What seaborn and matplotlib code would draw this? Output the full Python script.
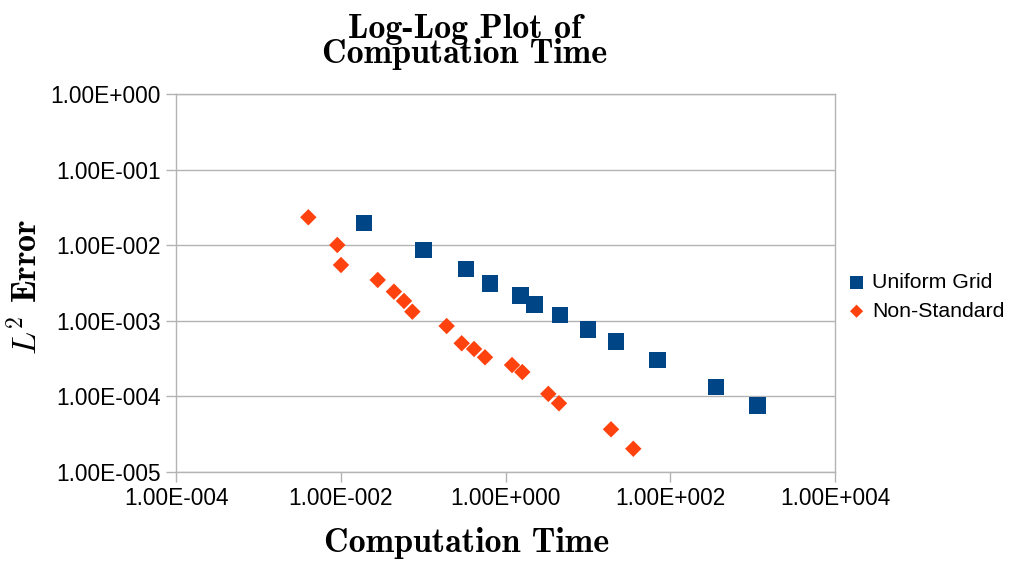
import numpy as np
import pandas as pd
import matplotlib
matplotlib.use("Agg")
import matplotlib.pyplot as plt
from matplotlib.ticker import FixedLocator, FuncFormatter, NullLocator
import seaborn as sns

# ---- data ----
uniform_time = [0.0191, 0.1005, 0.329, 0.649, 1.53, 2.24, 4.59, 10.1, 21.8, 69.7, 359, 1140]
uniform_err = [0.0195, 0.00865, 0.00484, 0.00313, 0.00215, 0.00165, 0.00119,
               0.000772, 0.000529, 0.000303, 0.000134, 7.62e-5]

nonstd_time = [0.00404, 0.00908, 0.01007, 0.0281, 0.0442, 0.0586, 0.0740, 0.193,
               0.294, 0.415, 0.564, 1.20, 1.60, 3.31, 4.46, 19.1, 35.6]
nonstd_err = [0.0234, 0.01006, 0.00547, 0.00347, 0.00243, 0.00183, 0.00132, 0.000853,
              0.000504, 0.000424, 0.000329, 0.000260, 0.000210, 0.000108, 8.11e-5,
              3.67e-5, 2.03e-5]

series_names = ["Uniform Grid", "Non-Standard"]
x_ticks = [1e-4, 1e-2, 1e0, 1e2, 1e4]
y_ticks = [1e-5, 1e-4, 1e-3, 1e-2, 1e-1, 1e0]

title_text = "Log-Log Plot of\nComputation Time"
x_label = "Computation Time"
y_label = r"$L^2$ Error"

df_u = pd.DataFrame({"time": uniform_time, "err": uniform_err, "series": series_names[0]})
df_n = pd.DataFrame({"time": nonstd_time, "err": nonstd_err, "series": series_names[1]})

sns.set_theme(style="white")
plt.rcParams["font.family"] = ["Liberation Sans", "DejaVu Sans"]
plt.rcParams["mathtext.fontset"] = "cm"
plt.rcParams["text.color"] = "black"

fig = plt.figure(figsize=(10.10, 5.61), dpi=100)
ax = fig.add_axes([176 / 1010, 1 - 472 / 561, (835 - 176) / 1010, (472 - 94) / 561])

blue = "#004586"
orange = "#ff420e"
gray = "#b3b3b3"

sns.scatterplot(data=df_u, x="time", y="err", marker="s", s=140, color=blue,
                edgecolor="none", label=series_names[0], ax=ax, zorder=3)
sns.scatterplot(data=df_n, x="time", y="err", marker="D", s=70, color=orange,
                edgecolor="none", label=series_names[1], ax=ax, zorder=3)

ax.set_xscale("log")
ax.set_yscale("log")
ax.set_xlim(1e-4, 1e4)
ax.set_ylim(1e-5, 1e0)

ax.xaxis.set_major_locator(FixedLocator(x_ticks))
ax.yaxis.set_major_locator(FixedLocator(y_ticks))
ax.xaxis.set_minor_locator(NullLocator())
ax.yaxis.set_minor_locator(NullLocator())


def fmt(v, pos):
    e = int(round(np.log10(v)))
    return f"1.00E{e:+04d}"


ax.xaxis.set_major_formatter(FuncFormatter(fmt))
ax.yaxis.set_major_formatter(FuncFormatter(fmt))

ax.grid(False)
ax.yaxis.grid(True, color=gray, linewidth=1.0)
ax.set_axisbelow(True)
for sp in ax.spines.values():
    sp.set_color(gray)
    sp.set_linewidth(1.0)
ax.tick_params(axis="both", which="major", length=7, width=1.0, color=gray,
               labelsize=16.3, labelcolor="black", pad=4, direction="out",
               bottom=True, left=True)

ax.set_xlabel("")
ax.set_ylabel("")

fig.text(465 / 1010, 1 - 42 / 561, title_text, ha="center", va="center",
         family="cmb10", fontsize=24.5, linespacing=0.72, color="black")
fig.text(467 / 1010, 1 - 543 / 561, x_label, ha="center", va="center",
         family="cmb10", fontsize=24.5, color="black")
fig.text(26 / 1010, 1 - 287 / 561, y_label, ha="center", va="center",
         rotation=90, family="cmb10", fontsize=24.5, color="black")

leg = ax.legend(loc="center left", bbox_to_anchor=(847 / 1010, 1 - 297 / 561),
                bbox_transform=fig.transFigure, frameon=False, fontsize=15.3,
                handlelength=0.9, handletextpad=0.3, labelspacing=0.45,
                borderaxespad=0, borderpad=0, markerscale=0.8)
for t in leg.get_texts():
    t.set_color("black")

fig.savefig("out.png", dpi=100)
